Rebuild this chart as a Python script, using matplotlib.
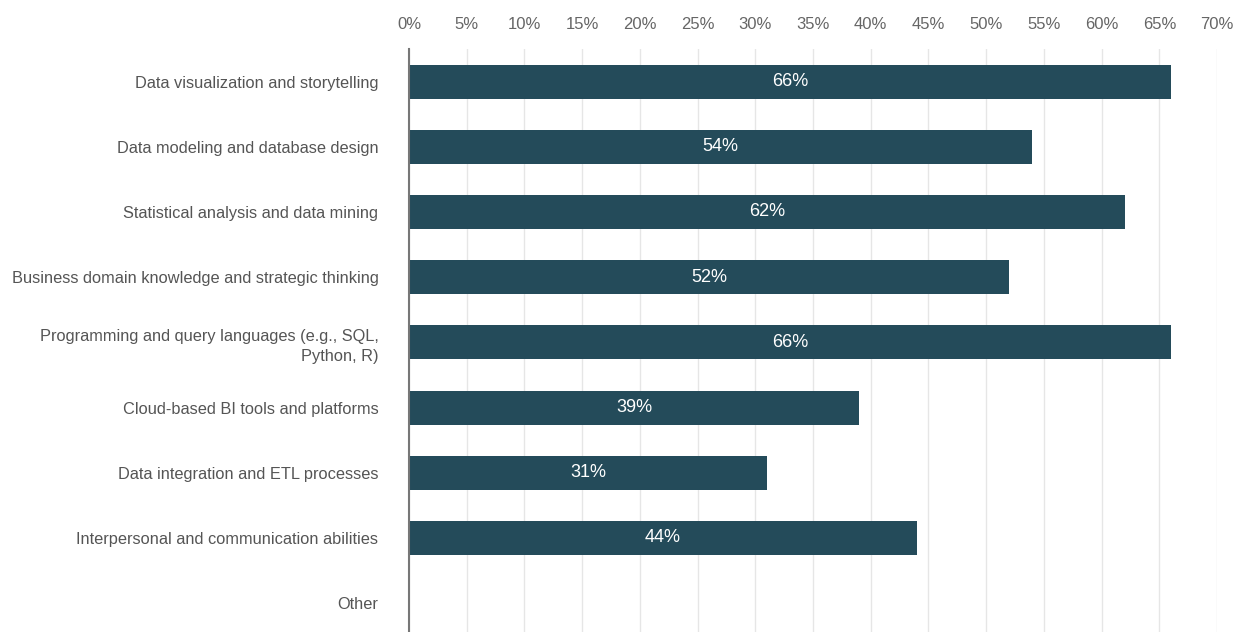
import matplotlib.pyplot as plt
import numpy as np

plt.rcParams['font.family'] = ['Liberation Sans', 'DejaVu Sans']

skills = [
    "Data visualization and storytelling",
    "Data modeling and database design",
    "Statistical analysis and data mining",
    "Business domain knowledge and strategic thinking",
    "Programming and query languages (e.g., SQL,\nPython, R)",
    "Cloud-based BI tools and platforms",
    "Data integration and ETL processes",
    "Interpersonal and communication abilities",
    "Other",
]
share = [66, 54, 62, 52, 66, 39, 31, 44, 0]
xticks = list(range(0, 75, 5))

bar_color = "#244b5a"

fig = plt.figure(figsize=(12.41, 6.32), dpi=100)
ax = fig.add_axes([0.3296, -0.006, 0.6511, 0.9285])

y = np.arange(len(skills))
bars = ax.barh(y, share, height=0.52, color=bar_color, zorder=3)

# value labels inside bars
for b, v in zip(bars, share):
    if v > 0:
        ax.text(b.get_width() / 2, b.get_y() + b.get_height() / 2, f"{v}%",
                ha="center", va="center", color="white", fontsize=13, zorder=4)

ax.set_ylim(len(skills) - 0.5, -0.5)
ax.set_yticks(y)
ax.set_yticklabels(skills, fontsize=11.8, color="#555555", ha="right",
                   linespacing=1.45)

ax.set_xlim(0, 70)
ax.set_xticks(xticks)
ax.set_xticklabels([f"{t}%" for t in xticks], fontsize=12, color="#666666")
ax.xaxis.tick_top()
ax.tick_params(axis="x", length=0, pad=12)
ax.tick_params(axis="y", length=0, pad=22)

ax.grid(axis="x", color="#e6e6e6", linewidth=1, zorder=0)
for s in ["top", "right", "bottom"]:
    ax.spines[s].set_visible(False)
ax.spines["left"].set_color("#777777")
ax.spines["left"].set_linewidth(1.5)
ax.spines["left"].set_zorder(5)

fig.savefig("out.png", dpi=100)
